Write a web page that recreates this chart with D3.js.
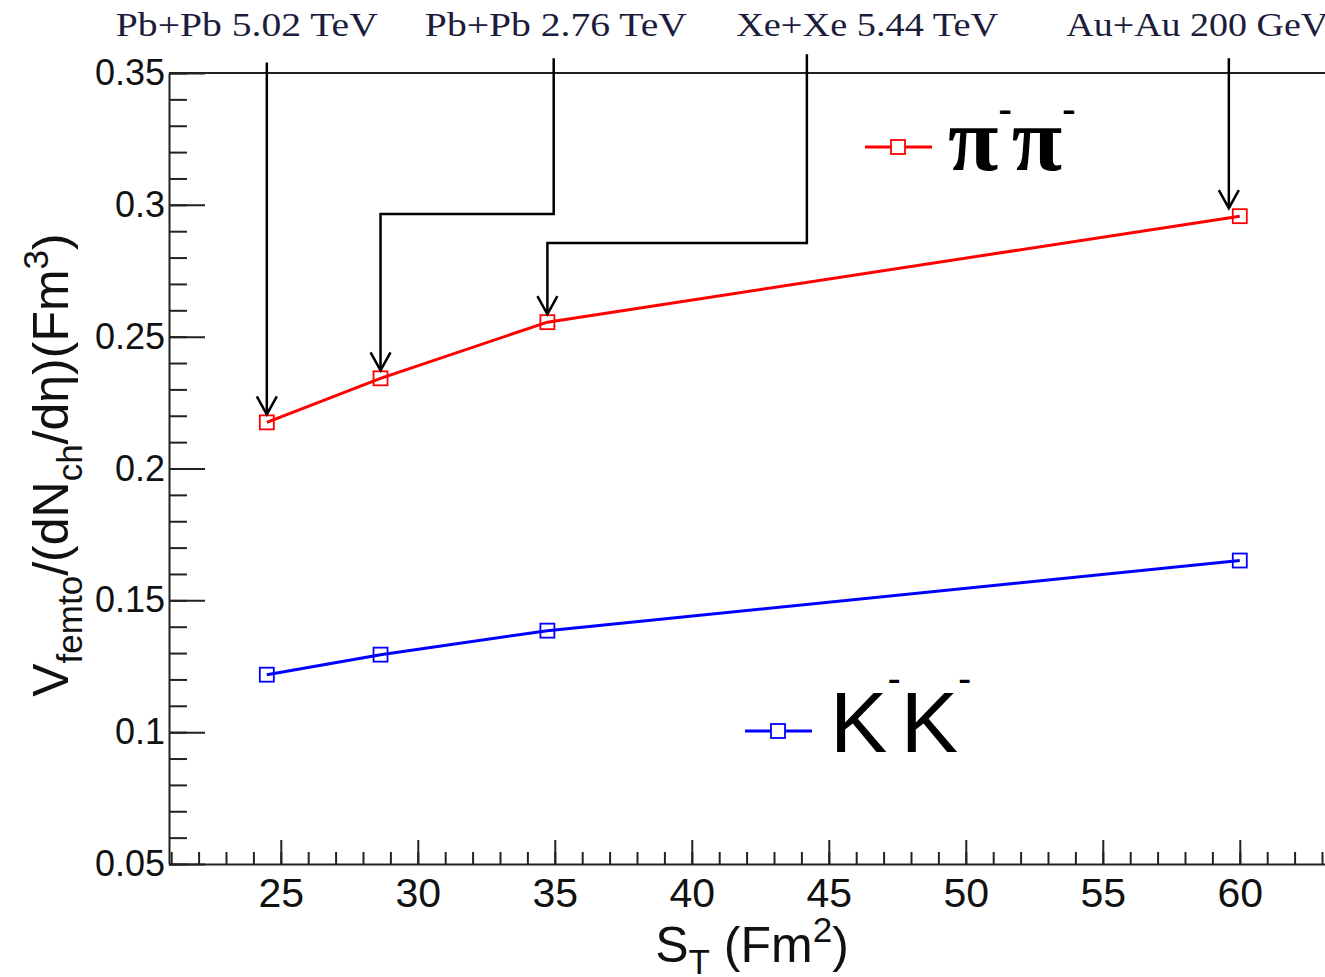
<!DOCTYPE html>
<html>
<head>
<meta charset="utf-8">
<script src="https://cdn.jsdelivr.net/npm/d3@7"></script>
<style>
  body { margin: 0; background: #fff; }
  svg { display: block; }
</style>
</head>
<body>
<script>
// S_T values (Fm^2) for the four systems
var stValues   = [24.49, 28.64, 34.73, 60.0]
var pipiValues = [0.2175, 0.2342, 0.2555, 0.2957]
var kkValues   = [0.1218, 0.1294, 0.1385, 0.1651]

var yTicks = [0.05, 0.1, 0.15, 0.2, 0.25, 0.3, 0.35]
var xTicks = [25, 30, 35, 40, 45, 50, 55, 60]

// annotations: label, label centre (S_T), arrow x (S_T), bend level (V), target point index
var annLabels = ["Pb+Pb 5.02 TeV", "Pb+Pb 2.76 TeV", "Xe+Xe 5.44 TeV", "Au+Au 200 GeV"]
var annLabelX = [23.76, 35.04, 46.4, 58.45]
var annArrowX = [24.49, 34.96, 44.2, 59.6]
var annTopY   = [0.354, 0.3556, 0.3571, 0.3556]
var annBendY  = [null, 0.2965, 0.2855, null]

var W = 1325, H = 977

var svg = d3.select("body").append("svg")
    .attr("width", W)
    .attr("height", H)

var x = d3.scaleLinear().domain([20.92, 65]).range([169, 169 + 44.08 * 27.4])
var y = d3.scaleLinear().domain([0.05, 0.35]).range([864, 73])

var fontSans = "'Liberation Sans', Arial, Helvetica, sans-serif"
var fontSerif = "'Liberation Serif', 'Times New Roman', serif"

// minor ticks
var yMinor = d3.range(5, 36).map(function(d) { return d / 100 })
var xMinor = d3.range(21, 66)

svg.append("g")
    .attr("transform", "translate(" + x.range()[0] + ",0)")
    .call(d3.axisLeft(y).tickValues(yMinor).tickSizeInner(-18).tickSizeOuter(0).tickFormat(""))
    .call(function(g) { g.select(".domain").remove() })
    .selectAll("line").attr("stroke", "#222").attr("stroke-width", 2)

svg.append("g")
    .attr("transform", "translate(0," + y.range()[0] + ")")
    .call(d3.axisBottom(x).tickValues(xMinor).tickSizeInner(-12).tickSizeOuter(0).tickFormat(""))
    .call(function(g) { g.select(".domain").remove() })
    .selectAll("line").attr("stroke", "#222").attr("stroke-width", 2)

// major axes
var yAxis = svg.append("g")
    .attr("transform", "translate(" + x.range()[0] + ",0)")
    .call(d3.axisLeft(y).tickValues(yTicks).tickSizeInner(-36).tickSizeOuter(0).tickPadding(4)
        .tickFormat(function(d) { return String(+d.toFixed(2)) }))
yAxis.select(".domain").attr("stroke", "#222").attr("stroke-width", 2)
yAxis.selectAll("line").attr("stroke", "#222").attr("stroke-width", 2)
yAxis.selectAll("text")
    .attr("font-family", fontSans)
    .attr("font-size", 36)
    .attr("fill", "#111")

var xAxis = svg.append("g")
    .attr("transform", "translate(0," + y.range()[0] + ")")
    .call(d3.axisBottom(x).tickValues(xTicks).tickSizeInner(-24).tickSizeOuter(0).tickPadding(14))
xAxis.select(".domain").attr("stroke", "#222").attr("stroke-width", 2)
xAxis.selectAll("line").attr("stroke", "#222").attr("stroke-width", 2)
xAxis.selectAll("text")
    .attr("font-family", fontSans)
    .attr("font-size", 41)
    .attr("fill", "#111")

// top frame line
svg.append("line")
    .attr("x1", x.range()[0]).attr("x2", x.range()[1])
    .attr("y1", y(0.35)).attr("y2", y(0.35))
    .attr("stroke", "#222").attr("stroke-width", 2)

// axis titles
var yTitle = svg.append("text")
    .attr("transform", "translate(68," + 465 + ") rotate(-90)")
    .attr("text-anchor", "middle")
    .attr("font-family", fontSans)
    .attr("font-size", 50)
    .attr("fill", "#111")
yTitle.append("tspan").text("V")
yTitle.append("tspan").attr("font-size", 35).attr("dy", 14).text("femto")
yTitle.append("tspan").attr("dy", -14).text("/(dN")
yTitle.append("tspan").attr("font-size", 35).attr("dy", 14).text("ch")
yTitle.append("tspan").attr("dy", -14).text("/d\u03b7)(Fm")
yTitle.append("tspan").attr("font-size", 35).attr("dy", -20).text("3")
yTitle.append("tspan").attr("dy", 20).text(")")

var xTitle = svg.append("text")
    .attr("x", 752).attr("y", 962)
    .attr("text-anchor", "middle")
    .attr("font-family", fontSans)
    .attr("font-size", 50)
    .attr("fill", "#111")
xTitle.append("tspan").text("S")
xTitle.append("tspan").attr("font-size", 35).attr("dy", 12).text("T")
xTitle.append("tspan").attr("dy", -12).text(" (Fm")
xTitle.append("tspan").attr("font-size", 35).attr("dy", -20).text("2")
xTitle.append("tspan").attr("dy", 20).text(")")

// series
var series = [
    { values: pipiValues, color: "#ff0000" },
    { values: kkValues,   color: "#0000ff" }
]
var line = d3.line()
    .x(function(d) { return x(d[0]) })
    .y(function(d) { return y(d[1]) })

series.forEach(function(s) {
    var pts = stValues.map(function(v, i) { return [v, s.values[i]] })
    svg.append("path")
        .attr("d", line(pts))
        .attr("fill", "none")
        .attr("stroke", s.color)
        .attr("stroke-width", 3)
    svg.selectAll(null).data(pts).enter().append("rect")
        .attr("x", function(d) { return x(d[0]) - 7 })
        .attr("y", function(d) { return y(d[1]) - 7 })
        .attr("width", 14).attr("height", 14)
        .attr("fill", "none")
        .attr("stroke", s.color)
        .attr("stroke-width", 1.8)
})

// annotation labels and arrows
annLabels.forEach(function(lab, i) {
    svg.append("text")
        .attr("x", x(annLabelX[i]))
        .attr("y", 36)
        .attr("text-anchor", "middle")
        .attr("font-family", fontSerif)
        .attr("font-size", 33)
        .attr("fill", "#1c1c3c")
        .attr("textLength", 262)
        .attr("lengthAdjust", "spacingAndGlyphs")
        .text(lab)

    var xt = x(stValues[i])
    var tip = y(pipiValues[i]) - 8
    var xa = x(annArrowX[i])
    var d = "M" + xa + "," + y(annTopY[i])
    if (annBendY[i] !== null) {
        d += "V" + y(annBendY[i]) + "H" + xt
    } else {
        xt = xa
    }
    d += "V" + tip
    svg.append("path")
        .attr("d", d)
        .attr("fill", "none")
        .attr("stroke", "#000")
        .attr("stroke-width", 2.5)
    svg.append("path")
        .attr("d", "M" + (xt - 10) + "," + (tip - 18) + "L" + xt + "," + tip + "L" + (xt + 10) + "," + (tip - 18))
        .attr("fill", "none")
        .attr("stroke", "#000")
        .attr("stroke-width", 2.5)
})

// legends
function legendEntry(x0, yc, color) {
    svg.append("line")
        .attr("x1", x0).attr("x2", x0 + 67)
        .attr("y1", yc).attr("y2", yc)
        .attr("stroke", color).attr("stroke-width", 3)
    svg.append("rect")
        .attr("x", x0 + 26).attr("y", yc - 7)
        .attr("width", 14).attr("height", 14)
        .attr("fill", "#fff")
        .attr("stroke", color).attr("stroke-width", 1.8)
}
legendEntry(865, 147, "#ff0000")
legendEntry(745, 731, "#0000ff")

var piText = svg.append("text")
    .attr("x", 948).attr("y", 170)
    .attr("font-family", fontSerif)
    .attr("font-weight", "bold")
    .attr("font-size", 92)
    .attr("fill", "#000")
piText.append("tspan").text("\u03c0")
piText.append("tspan").attr("font-size", 40).attr("dy", -48).text("-")
piText.append("tspan").attr("dy", 48).text("\u03c0")
piText.append("tspan").attr("font-size", 40).attr("dy", -48).text("-")

var kText = svg.append("text")
    .attr("x", 830).attr("y", 752)
    .attr("font-family", fontSans)
    .attr("font-size", 86)
    .attr("fill", "#000")
kText.append("tspan").text("K")
kText.append("tspan").attr("font-size", 40).attr("dy", -60).text("-")
kText.append("tspan").attr("dy", 60).text("K")
kText.append("tspan").attr("font-size", 40).attr("dy", -60).text("-")
</script>
</body>
</html>
